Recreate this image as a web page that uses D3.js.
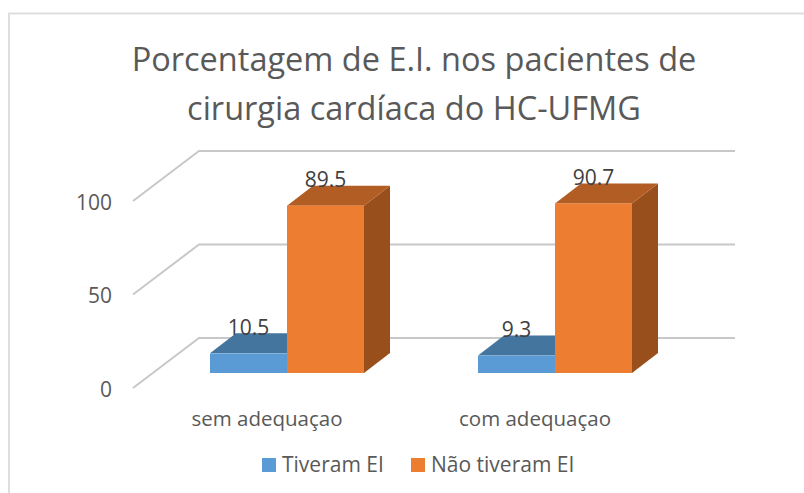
<!DOCTYPE html>
<html>
<head>
<meta charset="utf-8">
<script src="https://cdn.jsdelivr.net/npm/d3@7"></script>
<style>
  body { margin: 0; background: #fff; }
  text { font-family: "Open Sans", sans-serif; }
</style>
</head>
<body>
<div id="chart"></div>
<script>
var categories = ["sem adequaçao", "com adequaçao"];
var seriesNames = ["Tiveram EI", "Não tiveram EI"];
var tiveram = [10.5, 9.3];
var naoTiveram = [89.5, 90.7];
var yTicks = [0, 50, 100];
var titleLines = ["Porcentagem de E.I. nos pacientes de", "cirurgia cardíaca do HC-UFMG"];

var width = 804, height = 493;
var front = {faceColors: ["#5b9bd5", "#ed7d31"], topColors: ["#44759f", "#b25d24"], sideColors: ["#44759f", "#984f1c"]};

var svg = d3.select("#chart").append("svg")
    .attr("width", width)
    .attr("height", height)
    .style("display", "block");

// chart frame, only top and left are visible in the crop
svg.append("path")
    .attr("d", "M9,493V13.5H804")
    .attr("fill", "none")
    .attr("stroke", "#dedede")
    .attr("stroke-width", 2);

// title
svg.selectAll(".title")
    .data(titleLines)
    .enter()
    .append("text")
    .attr("class", "title")
    .attr("x", 414)
    .attr("y", function(d, i) { return 71 + i * 49; })
    .attr("text-anchor", "middle")
    .attr("font-size", 32.5)
    .attr("fill", "#595959")
    .text(function(d) { return d; });

// y is measured on the front edge of the floor, the back wall is shifted by the depth
var y = d3.scaleLinear().domain([0, 100]).range([388, 201]);
var floorDepth = {x: 66, y: -50};
var barOffset = {x: 20, y: -15};
var barDepth = {x: 26, y: -20};

var x0 = d3.scaleBand().domain(categories).range([133, 669]);
var x1 = d3.scaleBand().domain(seriesNames).range([0, 154]);
var barLeft = (x0.bandwidth() - 154) / 2 + barOffset.x;

// gridlines: slanted side wall + back wall
svg.append("g").selectAll("path")
    .data(yTicks)
    .enter()
    .append("path")
    .attr("d", function(d) {
        return "M133," + y(d) + "L" + (133 + floorDepth.x) + "," + (y(d) + floorDepth.y) + "H735";
    })
    .attr("fill", "none")
    .attr("stroke", "#c8c8c8")
    .attr("stroke-width", 2);

// y labels
svg.selectAll(".ylabel")
    .data(yTicks)
    .enter()
    .append("text")
    .attr("class", "ylabel")
    .attr("x", 112)
    .attr("y", function(d) { return y(d) + 8.5; })
    .attr("text-anchor", "end")
    .attr("font-size", 21)
    .attr("fill", "#595959")
    .text(function(d) { return d; });

function drawBar(g, left, val, s) {
    var w = x1.bandwidth();
    var bottom = y(0) + barOffset.y;
    var top = y(val) + barOffset.y;
    var dx = barDepth.x, dy = barDepth.y;
    // side
    g.append("path")
        .attr("d", "M" + (left + w) + "," + top + "l" + dx + "," + dy + "V" + (bottom + dy) + "L" + (left + w) + "," + bottom + "Z")
        .attr("fill", front.sideColors[s]);
    // top
    g.append("path")
        .attr("d", "M" + left + "," + top + "l" + dx + "," + dy + "h" + w + "l" + (-dx) + "," + (-dy) + "Z")
        .attr("fill", front.topColors[s]);
    // face
    g.append("rect")
        .attr("x", left)
        .attr("y", top)
        .attr("width", w)
        .attr("height", bottom - top)
        .attr("fill", front.faceColors[s]);
}

categories.forEach(function(cat, i) {
    var g = svg.append("g");
    var base = x0(cat) + barLeft;
    drawBar(g, base + x1(seriesNames[0]), tiveram[i], 0);
    drawBar(g, base + x1(seriesNames[1]), naoTiveram[i], 1);

    [tiveram[i], naoTiveram[i]].forEach(function(v, s) {
        svg.append("text")
            .attr("x", base + x1(seriesNames[s]) + x1.bandwidth() / 2)
            .attr("y", y(v) + barOffset.y + barDepth.y + 1.5)
            .attr("text-anchor", "middle")
            .attr("font-size", 21)
            .attr("fill", "#404040")
            .text(v.toFixed(1));
    });

    svg.append("text")
        .attr("x", x0(cat) + x0.bandwidth() / 2)
        .attr("y", 426)
        .attr("text-anchor", "middle")
        .attr("font-size", 20.5)
        .attr("fill", "#595959")
        .text(cat);
});

// legend
var legendX = [262, 411];
seriesNames.forEach(function(name, i) {
    svg.append("rect")
        .attr("x", legendX[i])
        .attr("y", 458)
        .attr("width", 14)
        .attr("height", 14)
        .attr("fill", front.faceColors[i]);
    svg.append("text")
        .attr("x", legendX[i] + 20)
        .attr("y", 472)
        .attr("font-size", 21)
        .attr("fill", "#595959")
        .text(name);
});
</script>
</body>
</html>
